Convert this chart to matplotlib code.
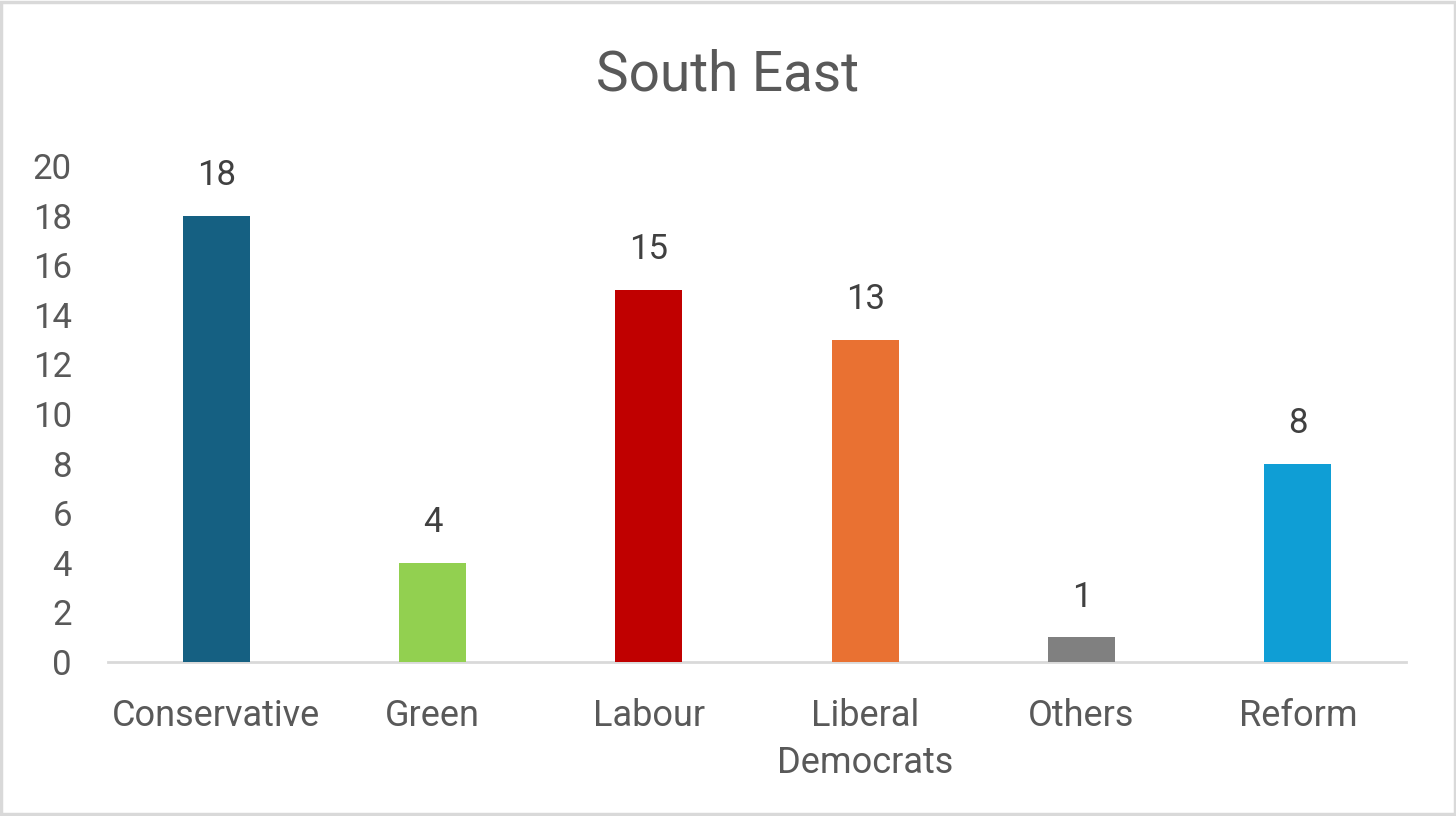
import matplotlib
matplotlib.use("Agg")
import matplotlib.pyplot as plt
from matplotlib.patches import Rectangle

plt.rcParams['font.family'] = ['Roboto', 'DejaVu Sans']

parties = ['Conservative', 'Green', 'Labour', 'Liberal\nDemocrats', 'Others', 'Reform']
seats = [18, 4, 15, 13, 1, 8]
bar_colors = ['#156082', '#92D050', '#C00000', '#E97132', '#808080', '#0F9ED5']
title = 'South East'

fig = plt.figure(figsize=(14.56, 8.16), dpi=100)
ax = fig.add_axes([0.0742, 0.1887, 0.8915, 0.6079])

x = list(range(len(parties)))
bars = ax.bar(x, seats, width=0.31, color=bar_colors, zorder=3)

# data labels above each bar
for xi, v in zip(x, seats):
    ax.annotate(str(v), (xi, v), xytext=(0, 17), textcoords='offset points',
                ha='center', va='bottom', fontsize=25, color='#404040')

ax.set_xlim(-0.5, len(parties) - 0.5)
ax.set_ylim(0, 20)
ax.set_yticks(range(0, 21, 2))
ax.set_xticks(x)
ax.set_xticklabels(parties, linespacing=1.38)

for s in ['top', 'right', 'left']:
    ax.spines[s].set_visible(False)
ax.spines['bottom'].set_color('#D9D9D9')
ax.spines['bottom'].set_linewidth(2)

ax.tick_params(axis='y', length=0, pad=26, labelsize=25, labelcolor='#595959')
ax.tick_params(axis='x', length=0, pad=26, labelsize=26, labelcolor='#595959')
for lbl in ax.get_yticklabels():
    lbl.set_horizontalalignment('right')

fig.text(0.5, 0.908, title, ha='center', va='center', fontsize=39.5, color='#595959')

# light grey frame round the chart
fig.add_artist(Rectangle((0.001, 0.002), 0.998, 0.996, transform=fig.transFigure,
                         fill=False, edgecolor='#D9D9D9', linewidth=2.5))

fig.savefig('out.png', dpi=100, facecolor='white')
